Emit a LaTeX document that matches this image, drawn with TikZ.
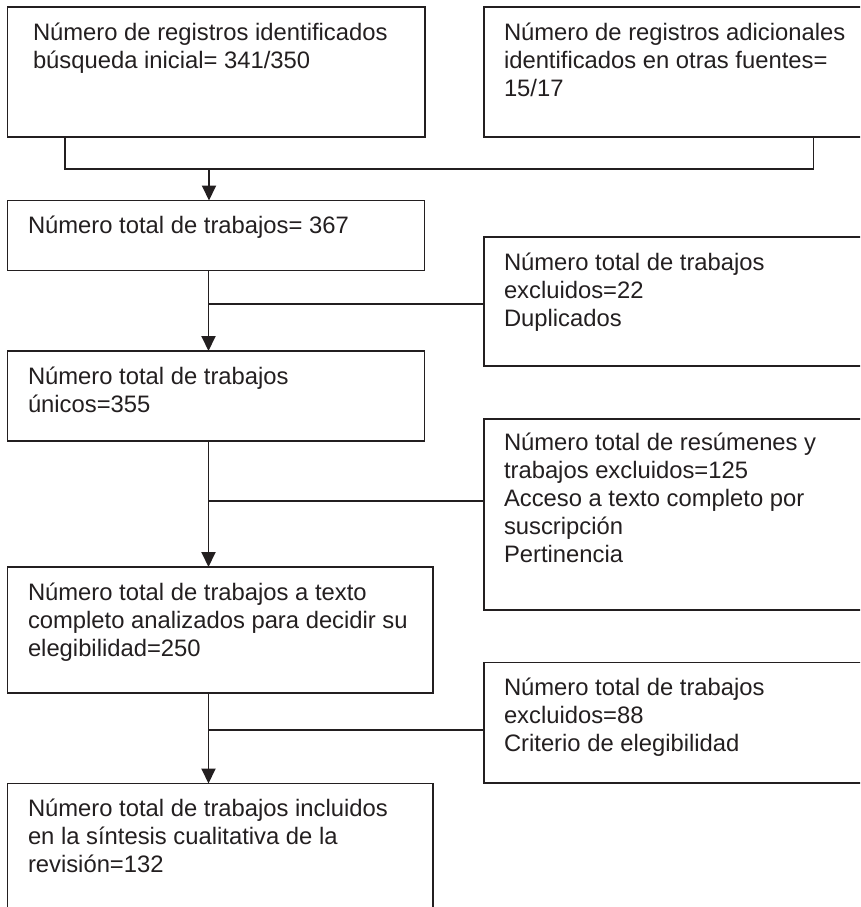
\documentclass[tikz,border=0pt]{standalone}
\usepackage{fontspec}
\setmainfont{Liberation Sans}
\usetikzlibrary{arrows.meta}
\definecolor{ink}{HTML}{231F20}
\begin{document}
\begin{tikzpicture}[x=1pt,y=-1pt,
  box/.style={draw=ink, line width=1.9pt, rectangle, inner sep=0pt, outer sep=0pt, anchor=north west},
  txt/.style={anchor=north west, inner sep=0pt, outer sep=0pt, align=left, text=ink, font=\fontsize{23.8}{28}\selectfont},
  link/.style={draw=ink, line width=1.9pt},
  arr/.style={link, -{Triangle[width=14pt,length=15pt]}}]
\useasboundingbox (0,0) rectangle (860,907);
\clip (0,0) rectangle (860,907);
\fill[white] (0,0) rectangle (860,907);
% boxes
\node[box, minimum width=417.5, minimum height=130] (b1) at (7.5,7) {};
\node[box, minimum width=400, minimum height=130] (b2) at (484,7) {};
\node[box, minimum width=417, minimum height=70] (b3) at (7.5,200.5) {};
\node[box, minimum width=400, minimum height=129] (s1) at (484,237) {};
\node[box, minimum width=417, minimum height=90] (b4) at (7.5,351) {};
\node[box, minimum width=400, minimum height=191] (s2) at (484,419) {};
\node[box, minimum width=425.5, minimum height=126] (b5) at (7.5,567) {};
\node[box, minimum width=400, minimum height=120.5] (s3) at (484,662.5) {};
\node[box, minimum width=425.5, minimum height=160] (b6) at (7.5,783.5) {};
% texts
\node[txt] (t1) at (33,19) {\rule{0pt}{21pt}Número de registros identificados\\búsqueda inicial= 341/350};
\node[txt] (t2) at (504,19) {\rule{0pt}{21pt}Número de registros adicionales\\identificados en otras fuentes=\\15/17};
\node[txt] (t3) at (28,212.5) {\rule{0pt}{21pt}Número total de trabajos= 367};
\node[txt] (ts1) at (504,249) {\rule{0pt}{21pt}Número total de trabajos\\excluidos=22\\Duplicados};
\node[txt] (t4) at (28,363) {\rule{0pt}{21pt}Número total de trabajos\\únicos=355};
\node[txt] (ts2) at (504,429) {\rule{0pt}{21pt}Número total de resúmenes y\\trabajos excluidos=125\\Acceso a texto completo por\\suscripción\\Pertinencia};
\node[txt] (t5) at (28,579.5) {\rule{0pt}{21pt}Número total de trabajos a texto\\completo analizados para decidir su\\elegibilidad=250};
\node[txt] (ts3) at (504,674) {\rule{0pt}{21pt}Número total de trabajos\\excluidos=88\\Criterio de elegibilidad};
\node[txt] (t6) at (28,795) {\rule{0pt}{21pt}Número total de trabajos incluidos\\en la síntesis cualitativa de la\\revisión=132};
% connectors
\coordinate (bl) at ([xshift=57.5]b1.south west);
\coordinate (br) at ([xshift=329.5]b2.south west);
\coordinate (j0) at (209,169);
\draw[link] (bl) -- (bl |- j0) -- (br |- j0) -- (br);
\draw[arr] (j0) -- (j0 |- b3.north);
\coordinate (k1) at (208.5,304);
\coordinate (k2) at (208.5,501);
\coordinate (k3) at (208.5,730);
\draw[arr] (k1 |- b3.south) -- (k1 |- b4.north);
\draw[link] (k1) -- (k1 -| s1.west);
\draw[arr] (k2 |- b4.south) -- (k2 |- b5.north);
\draw[link] (k2) -- (k2 -| s2.west);
\draw[arr] (k3 |- b5.south) -- (k3 |- b6.north);
\draw[link] (k3) -- (k3 -| s3.west);
\end{tikzpicture}
\end{document}
